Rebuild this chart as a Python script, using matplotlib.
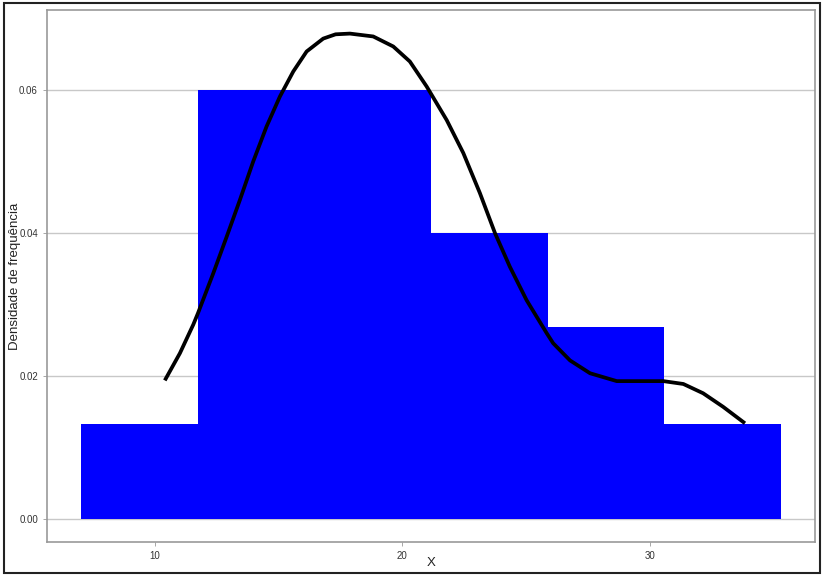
import matplotlib
matplotlib.use("Agg")
import matplotlib.pyplot as plt
from matplotlib.patches import Rectangle
import numpy as np

plt.rcParams["font.family"] = ["Liberation Sans", "DejaVu Sans"]

# histogram (density)
bin_edges = [7.01, 11.74, 16.45, 21.17, 25.9, 30.57, 35.3]
densities = [0.0133, 0.06, 0.06, 0.04, 0.0268, 0.0133]

# density curve, points
curve_x = [10.40, 11.01, 11.55, 11.74, 12.36, 12.90, 13.43, 13.97, 14.51, 15.05,
           15.59, 16.13, 16.80, 17.30, 17.88, 18.82, 19.63, 20.30, 20.98, 21.79,
           22.46, 23.13, 23.74, 24.34, 25.02, 25.83, 26.09, 26.77, 27.58, 28.66,
           29.60, 30.54, 31.35, 32.15, 32.96, 33.84]
curve_y = [0.0194, 0.0232, 0.0272, 0.0288, 0.0344, 0.0395, 0.0446, 0.0500, 0.0549, 0.0591,
           0.0626, 0.0654, 0.0672, 0.0678, 0.0679, 0.0675, 0.0661, 0.0640, 0.0605, 0.0558,
           0.0512, 0.0456, 0.0400, 0.0353, 0.0306, 0.0260, 0.0246, 0.0222, 0.0204, 0.0193,
           0.0193, 0.0193, 0.0189, 0.0176, 0.0157, 0.0134]

xticks = [10, 20, 30]
yticks = [0.00, 0.02, 0.04, 0.06]

fig = plt.figure(figsize=(8.25, 5.76), dpi=100)
ax = fig.add_axes([47/825, 1 - 542/576, (815 - 47)/825, (542 - 10)/576])

widths = np.diff(bin_edges)
ax.bar(bin_edges[:-1], densities, width=widths, align="edge", color="#0000ff",
       edgecolor="none", zorder=2)
ax.plot(curve_x, curve_y, color="black", lw=2.7, solid_joinstyle="round",
        solid_capstyle="butt", zorder=3)

ax.set_xlim(5.64, 36.67)
ax.set_ylim(-0.0032, 0.0712)
ax.set_xticks(xticks)
ax.set_yticks(yticks)
ax.set_yticklabels([f"{v:.2f}" for v in yticks])
ax.grid(axis="y", color="#c8c8c8", lw=1, zorder=0)
ax.tick_params(labelsize=7, length=3, width=0.6, colors="#999999", labelcolor="#333333")
for s in ax.spines.values():
    s.set_color("#999999")
    s.set_linewidth(1.2)

ax.set_xlabel("X", fontsize=9.5, color="#222222")
ax.set_ylabel("Densidade de frequência", fontsize=9.5, color="#222222")
ax.xaxis.set_label_coords(0.5, -0.028)
ax.yaxis.set_label_coords(-0.034, 0.5)

fig.patches.append(Rectangle((4/825, 3/576), 816/825, 570/576, transform=fig.transFigure,
                             fill=False, edgecolor="#222222", lw=1.5))

fig.savefig("out.png", dpi=100)
